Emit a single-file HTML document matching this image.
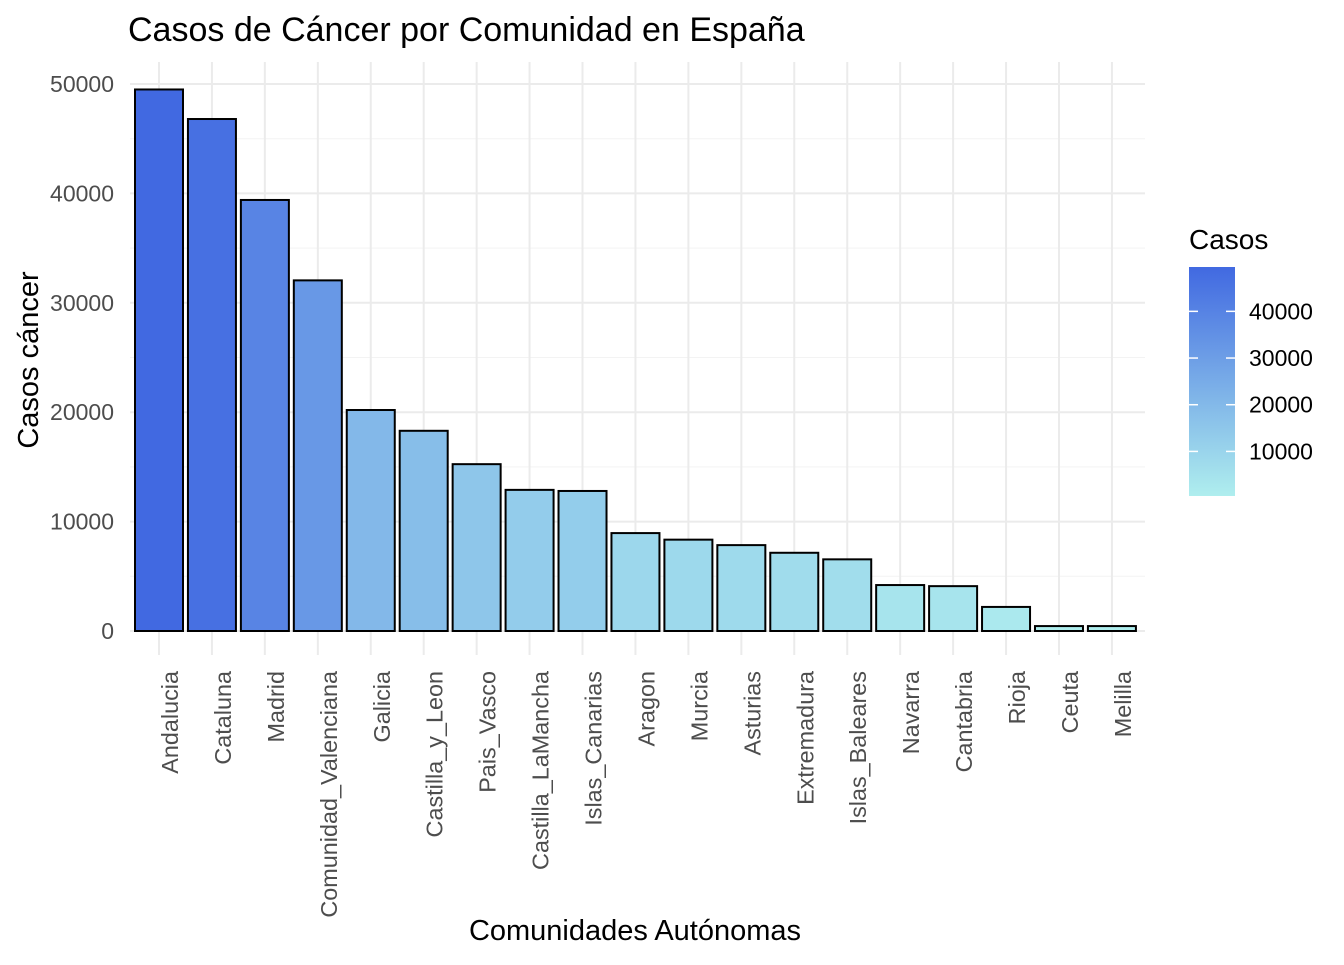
<!DOCTYPE html>
<html><head><meta charset="utf-8"><style>
body{margin:0;background:#fff;font-family:"Liberation Sans",Arial,sans-serif;}
svg text{font-family:"Liberation Sans",Arial,sans-serif;}
</style></head><body>
<svg id="chart" width="1344" height="960">
<defs><linearGradient id="lg" x1="0" y1="1" x2="0" y2="0">
<stop offset="0" stop-color="#afeeee"/><stop offset="1" stop-color="#4169e1"/></linearGradient></defs>
<text x="128" y="41" font-size="34" fill="#000">Casos de Cáncer por Comunidad en España</text>
<g id="grid"></g><g id="bars"></g><g id="xl"></g><g id="yl"></g>
<text x="635" y="940" font-size="29" text-anchor="middle">Comunidades Autónomas</text>
<text transform="translate(38,360) rotate(-90)" font-size="29" text-anchor="middle">Casos cáncer</text>
<g>
<text x="1189" y="249" font-size="28">Casos</text>
<rect x="1189" y="267" width="46" height="229" fill="url(#lg)"/>
<g id="lt"></g></g>
</svg>
<script>
const categories=["Andalucia","Cataluna","Madrid","Comunidad_Valenciana","Galicia","Castilla_y_Leon","Pais_Vasco","Castilla_LaMancha","Islas_Canarias","Aragon","Murcia","Asturias","Extremadura","Islas_Baleares","Navarra","Cantabria","Rioja","Ceuta","Melilla"];
const values=[49500,46800,39400,32050,20200,18300,15250,12900,12800,8950,8350,7850,7150,6550,4200,4100,2200,450,450];
const yTicks=[0,10000,20000,30000,40000,50000];
const legendTicks=[10000,20000,30000,40000];
const NS="http://www.w3.org/2000/svg";
function el(t,a,p){const e=document.createElementNS(NS,t);for(const k in a)e.setAttribute(k,a[k]);p.appendChild(e);return e;}
const y0=631,pxPer=547/50000,x0=159,step=52.94,bw=48;
const y=v=>y0-v*pxPer, x=i=>x0+i*step;
const mn=Math.min(...values),mx=Math.max(...values);
const lo=[175,238,238],hi=[65,105,225];
function col(v){const t=(v-mn)/(mx-mn);return "rgb("+lo.map((c,k)=>Math.round(c+(hi[k]-c)*t)).join(",")+")";}
const g=document.getElementById('grid');
for(let v=5000;v<=52000;v+=10000){const l=el('line',{x1:130,x2:1145,y1:y(v),y2:y(v),stroke:'#f3f3f3','stroke-width':1},g);

}
yTicks.forEach(v=>{const l=el('line',{x1:130,x2:1145,y1:y(v),y2:y(v),stroke:'#ebebeb','stroke-width':2},g);


const t=el('text',{x:114,y:y(v)+8,'font-size':23,fill:'#4d4d4d','text-anchor':'end'},document.getElementById('yl'));t.textContent=v;

});
categories.forEach((c,i)=>{const l=el('line',{x1:x(i),x2:x(i),y1:62,y2:655,stroke:'#ebebeb','stroke-width':2},g);


const r=el('rect',{x:x(i)-bw/2,y:y(values[i]),width:bw,height:y0-y(values[i]),fill:col(values[i]),stroke:'#000','stroke-width':2},document.getElementById('bars'));


const t=el('text',{transform:`translate(${x(i)+19},671) rotate(-90)`,'font-size':23.4,fill:'#4d4d4d','text-anchor':'end'},document.getElementById('xl'));t.textContent=c;

});
const lt=document.getElementById('lt');
legendTicks.forEach(v=>{const yy=496-(v-mn)/(mx-mn)*229;
el('line',{x1:1189,x2:1198,y1:yy,y2:yy,stroke:'#fff','stroke-width':1.5},lt);
el('line',{x1:1226,x2:1235,y1:yy,y2:yy,stroke:'#fff','stroke-width':1.5},lt);
const t=el('text',{x:1249,y:yy+8,'font-size':23,fill:'#000'},lt);t.textContent=v;

});
</script>
</body></html>
